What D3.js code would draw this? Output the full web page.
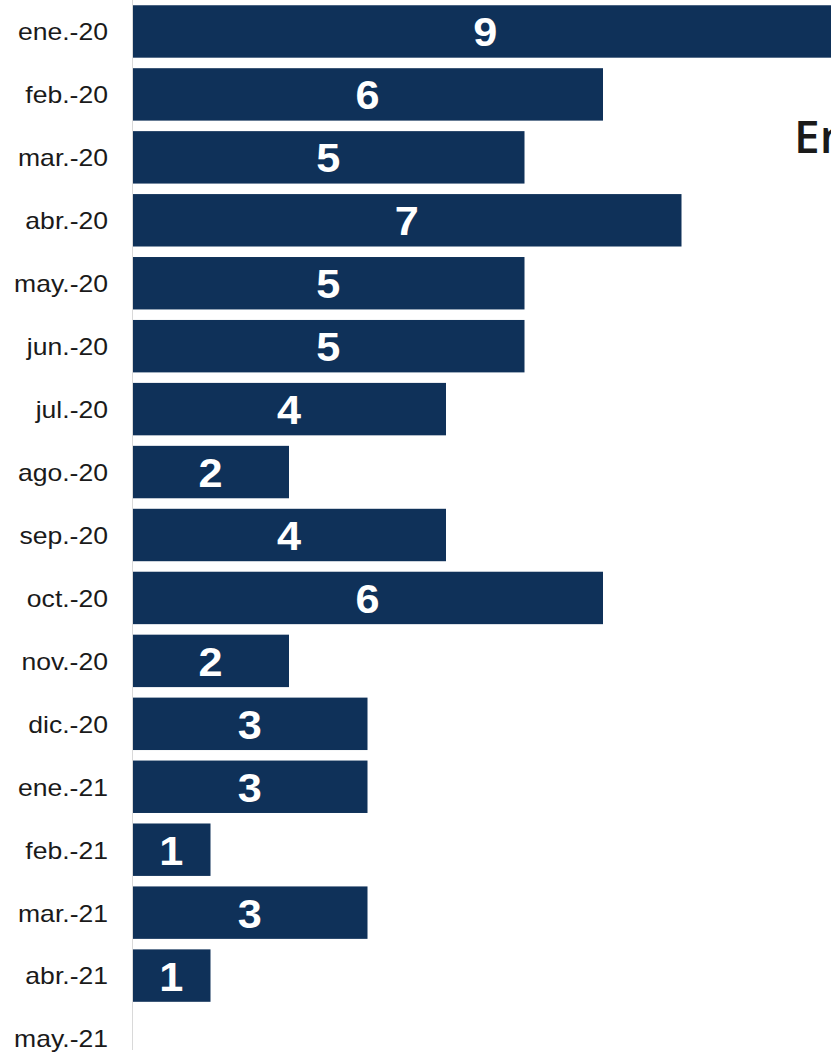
<!DOCTYPE html>
<html>
<head>
<meta charset="utf-8">
<script src="https://cdn.jsdelivr.net/npm/d3@7"></script>
<style>
  html, body { margin: 0; padding: 0; background: #fff; overflow: hidden; }
  svg { display: block; }
</style>
</head>
<body>
<script>
const categories = ["ene.-20","feb.-20","mar.-20","abr.-20","may.-20","jun.-20","jul.-20","ago.-20","sep.-20","oct.-20","nov.-20","dic.-20","ene.-21","feb.-21","mar.-21","abr.-21","may.-21"];
const values = [9,6,5,7,5,5,4,2,4,6,2,3,3,1,3,1,0];
const titleText = "En";

const W = 831, H = 1053;
const svg = d3.select("body").append("svg").attr("width", W).attr("height", H);

const x = d3.scaleLinear().domain([0, 9]).range([132, 838.5]);
const y = d3.scaleBand().domain(categories).range([0, 1070]).paddingInner(0.167).paddingOuter(0.0835);

// axis line
svg.append("line")
  .attr("x1", 132.5).attr("x2", 132.5)
  .attr("y1", 0).attr("y2", 1050)
  .attr("stroke", "#d9d9d9").attr("stroke-width", 1);

const data = categories.map((c, i) => ({c, v: values[i]}));

svg.selectAll("rect.bar").data(data.filter(d => d.v > 0)).join("rect")
  .attr("class", "bar")
  .attr("x", x(0) + 1)
  .attr("y", d => y(d.c))
  .attr("width", d => x(d.v) - x(0) - 1)
  .attr("height", y.bandwidth())
  .attr("fill", "#0f3159");

// category labels
svg.selectAll("text.cat").data(data).join("text")
  .attr("class", "cat")
  .attr("transform", d => `translate(108,${y(d.c) + y.bandwidth()/2 + 1}) scale(1.155,1)`)
  .attr("text-anchor", "end")
  .attr("dominant-baseline", "central")
  .style("font-family", "'Liberation Sans', Arial, sans-serif")
  .attr("font-size", 23)
  .attr("fill", "#1a1a1a")
  .text(d => d.c);

// value labels
svg.selectAll("text.val").data(data.filter(d => d.v > 0)).join("text")
  .attr("class", "val")
  .attr("transform", d => `translate(${(x(0) + x(d.v))/2},${y(d.c) + y.bandwidth()/2 + 1}) scale(1.08,1)`)
  .attr("text-anchor", "middle")
  .attr("dominant-baseline", "central")
  .style("font-family", "'Liberation Sans', Arial, sans-serif")
  .style("font-weight", "bold")
  .attr("font-size", 40)
  .attr("fill", "#ffffff")
  .text(d => d.v);

// title (cut off at right edge, as in the reference)
svg.append("text")
  .attr("x", 794).attr("y", 153)
  .style("font-family", "'Open Sans', sans-serif")
  .style("font-weight", 600)
  .attr("font-size", 46)
  .attr("fill", "#1a1a1a")
  .text(titleText);
</script>
</body>
</html>
